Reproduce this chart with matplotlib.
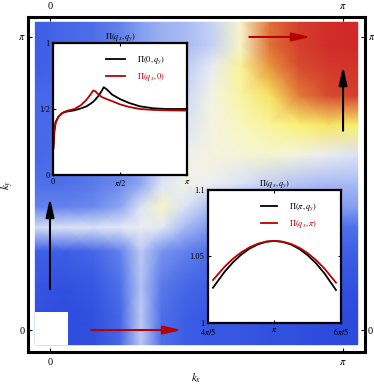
import numpy as np
import matplotlib
matplotlib.use("Agg")
import matplotlib.pyplot as plt
from matplotlib.colors import LinearSegmentedColormap, Normalize
from matplotlib.patches import Rectangle

plt.rcParams['font.family'] = ['Liberation Serif', 'DejaVu Serif']
plt.rcParams['mathtext.fontset'] = 'stix'

# ---- density map Pi(kx, ky), nodes in units of pi ----
kx_nodes = [-0.05, 0.05, 0.15, 0.24, 0.31, 0.38, 0.46, 0.55, 0.65, 0.75, 0.85, 0.95, 1.05]
ky_nodes = [-0.05, 0.05, 0.15, 0.27, 0.35, 0.42, 0.50, 0.60, 0.70, 0.80, 0.90, 0.97, 1.05]
pi_map = [
    [0.49, 0.475, 0.48, 0.51, 0.62, 0.52, 0.50, 0.49, 0.49, 0.48, 0.48, 0.47, 0.47],
    [0.48, 0.475, 0.48, 0.51, 0.62, 0.52, 0.50, 0.49, 0.49, 0.48, 0.48, 0.47, 0.47],
    [0.49, 0.48, 0.49, 0.52, 0.61, 0.53, 0.51, 0.50, 0.49, 0.49, 0.48, 0.48, 0.48],
    [0.50, 0.50, 0.51, 0.54, 0.62, 0.56, 0.54, 0.52, 0.51, 0.50, 0.50, 0.50, 0.50],
    [0.65, 0.66, 0.66, 0.67, 0.69, 0.67, 0.60, 0.56, 0.54, 0.53, 0.52, 0.52, 0.52],
    [0.54, 0.54, 0.55, 0.58, 0.66, 0.76, 0.66, 0.60, 0.57, 0.56, 0.56, 0.57, 0.57],
    [0.52, 0.52, 0.53, 0.55, 0.58, 0.66, 0.72, 0.70, 0.66, 0.63, 0.61, 0.60, 0.60],
    [0.51, 0.52, 0.53, 0.55, 0.57, 0.62, 0.70, 0.73, 0.74, 0.75, 0.73, 0.69, 0.66],
    [0.51, 0.52, 0.53, 0.55, 0.57, 0.60, 0.66, 0.73, 0.77, 0.81, 0.85, 0.87, 0.86],
    [0.51, 0.51, 0.52, 0.54, 0.56, 0.59, 0.64, 0.72, 0.80, 0.87, 0.95, 1.00, 1.02],
    [0.50, 0.51, 0.52, 0.54, 0.56, 0.59, 0.62, 0.68, 0.81, 0.93, 1.00, 1.03, 1.04],
    [0.50, 0.51, 0.52, 0.54, 0.57, 0.59, 0.60, 0.63, 0.76, 0.96, 1.02, 1.05, 1.06],
    [0.50, 0.51, 0.52, 0.54, 0.57, 0.59, 0.60, 0.63, 0.76, 0.96, 1.02, 1.05, 1.06],
]
q_cut = 0.06  # small-q region left out of the map

# ---- inset 1: Pi along the zone edges ----
q1 = [0.003, 0.01, 0.02, 0.04, 0.07, 0.10, 0.16, 0.21, 0.25, 0.28, 0.30, 0.315, 0.34,
      0.365, 0.378, 0.40, 0.44, 0.50, 0.57, 0.65, 0.75, 0.85, 1.0]
pi_0_qy = [0.20, 0.33, 0.40, 0.44, 0.47, 0.48, 0.49, 0.505, 0.52, 0.54, 0.555, 0.57, 0.60,
           0.64, 0.665, 0.65, 0.61, 0.575, 0.545, 0.52, 0.505, 0.50, 0.50]
pi_qx_0 = [0.21, 0.34, 0.40, 0.44, 0.47, 0.485, 0.50, 0.53, 0.57, 0.61, 0.64, 0.635, 0.61,
           0.59, 0.585, 0.575, 0.56, 0.535, 0.515, 0.50, 0.493, 0.49, 0.488]

# ---- inset 2: Pi near (pi, pi) ----
q2 = [0.815, 0.85, 0.875, 0.90, 0.925, 0.95, 0.975, 1.0,
      1.025, 1.05, 1.075, 1.10, 1.125, 1.15, 1.185]
pi_pi_qy = [1.0265, 1.0385, 1.0456, 1.0514, 1.0559, 1.0591, 1.0611, 1.0617,
            1.0610, 1.0590, 1.0556, 1.0509, 1.0449, 1.0374, 1.0248]
pi_qx_pi = [1.0323, 1.0423, 1.0483, 1.0531, 1.0569, 1.0596, 1.0612, 1.0617,
            1.0611, 1.0594, 1.0565, 1.0525, 1.0473, 1.0410, 1.0303]

# ---- arrows along the zone edges (start, end) ----
red_arrows = [((0.14, 0.0), (0.45, 0.0)), ((0.68, 1.0), (0.89, 1.0))]
black_arrows = [((0.0, 0.14), (0.0, 0.45)), ((1.0, 0.68), (1.0, 0.90))]

red = '#b80000'

stops = [(0.47, '#2c4adc'), (0.50, '#3d5fe6'), (0.55, '#6d8bee'), (0.61, '#b4c4f4'),
         (0.67, '#e4e9f6'), (0.71, '#f2f2ee'), (0.77, '#f8f6c0'), (0.86, '#faf26a'),
         (0.93, '#e8943c'), (0.99, '#d85030'), (1.06, '#d02828')]
vmin, vmax = stops[0][0], stops[-1][0]
cmap = LinearSegmentedColormap.from_list(
    'temp', [((v - vmin) / (vmax - vmin), c) for v, c in stops])

fig = plt.figure(figsize=(3.74, 3.87), dpi=100)
ax = fig.add_axes([0.0749, 0.0904, 0.9011, 0.8656])

X, Y = np.meshgrid(kx_nodes, ky_nodes)
ax.pcolormesh(X, Y, np.array(pi_map), shading='gouraud', cmap=cmap,
              norm=Normalize(vmin, vmax), rasterized=True)
ax.add_patch(Rectangle((kx_nodes[0], ky_nodes[0]), q_cut - kx_nodes[0], q_cut - ky_nodes[0],
                       facecolor='white', edgecolor='none', zorder=2))

for (x0, y0), (x1, y1) in red_arrows:
    ax.annotate('', xy=(x1, y1), xytext=(x0, y0),
                arrowprops=dict(arrowstyle='-|>,head_length=1.1,head_width=0.25',
                                color=red, lw=1.5, mutation_scale=10,
                                shrinkA=0, shrinkB=0), zorder=3)
for (x0, y0), (x1, y1) in black_arrows:
    ax.annotate('', xy=(x1, y1), xytext=(x0, y0),
                arrowprops=dict(arrowstyle='-|>,head_length=1.1,head_width=0.25',
                                color='black', lw=1.5, mutation_scale=10,
                                shrinkA=0, shrinkB=0), zorder=3)

ax.set_xlim(-0.075, 1.075)
ax.set_ylim(-0.075, 1.068)
ax.set_xticks([0, 1])
ax.set_xticklabels(['0', r'$\pi$'])
ax.set_yticks([0, 1])
ax.set_yticklabels(['0', r'$\pi$'])
ax.tick_params(direction='in', length=3, width=0.8, labelsize=7.5, pad=4,
               top=True, right=True, labeltop=True, labelright=True)
ax.tick_params(axis='y', pad=2)
for s in ax.spines.values():
    s.set_linewidth(2.2)
ax.set_xlabel(r'$k_x$', fontsize=8)
ax.set_ylabel(r'$k_y$', fontsize=8)
ax.xaxis.set_label_coords(0.5, -0.058)
ax.yaxis.set_label_coords(-0.036, 0.5)


def style_inset(a):
    for s in a.spines.values():
        s.set_linewidth(1.6)
    a.tick_params(direction='in', length=2.5, width=0.8, labelsize=6, pad=2.5,
                  top=True, right=True)
    a.set_facecolor('white')


# inset 1
ax1 = fig.add_axes([0.1417, 0.5478, 0.3583, 0.3411])
ax1.plot(q1, pi_0_qy, color='black', lw=1.3, label=r'$\Pi(0,q_y)$')
ax1.plot(q1, pi_qx_0, color=red, lw=1.3, label=r'$\Pi(q_x,0)$')
ax1.set_xlim(0, 1)
ax1.set_ylim(0, 1)
ax1.set_xticks([0, 0.5, 1])
ax1.set_xticklabels(['0', r'$\pi/2$', r'$\pi$'])
ax1.set_yticks([0, 0.5, 1])
ax1.set_yticklabels(['0', '1/2', '1'])
ax1.set_title(r'$\Pi(q_x,q_y)$', fontsize=6, pad=3)
style_inset(ax1)
ax1.legend(loc='upper left', bbox_to_anchor=(0.34, 0.97), frameon=False, fontsize=6,
           handlelength=2.3, handletextpad=1.4, labelspacing=0.55, labelcolor='linecolor')

# inset 2
ax2 = fig.add_axes([0.5561, 0.1654, 0.3556, 0.3437])
ax2.plot(q2, pi_pi_qy, color='black', lw=1.3, label=r'$\Pi(\pi,q_y)$')
ax2.plot(q2, pi_qx_pi, color=red, lw=1.3, label=r'$\Pi(q_x,\pi)$')
ax2.set_xlim(0.8, 1.2)
ax2.set_ylim(1.0, 1.1)
ax2.set_xticks([0.8, 1.0, 1.2])
ax2.set_xticklabels([r'$4\pi/5$', r'$\pi$', r'$6\pi/5$'])
ax2.set_yticks([1.0, 1.05, 1.1])
ax2.set_yticklabels(['1', '1.05', '1.1'])
ax2.set_title(r'$\Pi(q_x,q_y)$', fontsize=6, pad=3)
style_inset(ax2)
ax2.legend(loc='upper left', bbox_to_anchor=(0.34, 0.97), frameon=False, fontsize=6,
           handlelength=2.0, handletextpad=1.4, labelspacing=0.55, labelcolor='linecolor')

fig.savefig('out.png', dpi=100)
